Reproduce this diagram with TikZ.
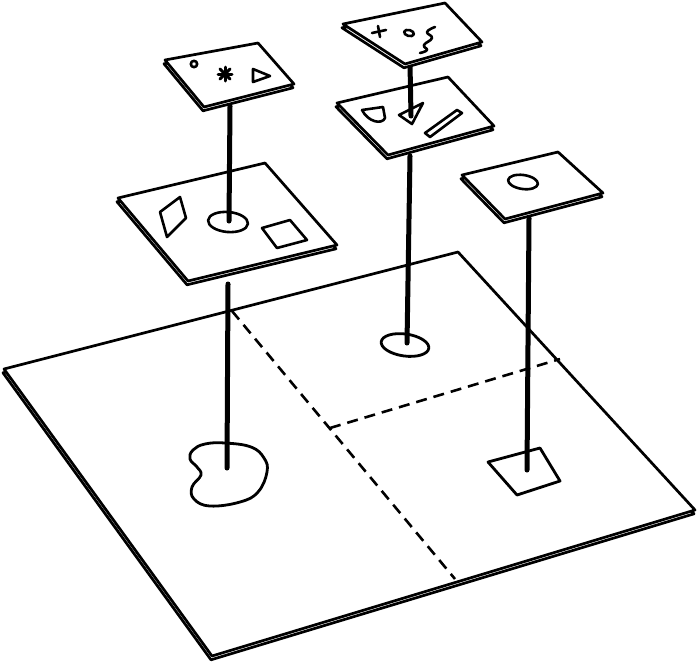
\documentclass[tikz,border=0pt]{standalone}
\usetikzlibrary{calc}
\begin{document}
\tikzset{
  sheet/.style={draw=black, fill=white, line width=2.7pt, line join=round},
  pole/.style={draw=black, line width=5pt, line cap=round},
  glyph/.style={draw=black, line width=2.6pt, line join=round, line cap=round},
  divider/.style={draw=black, line width=2.6pt, dash pattern=on 11pt off 7pt},
}
% a sheet with a second sheet peeking out below its front edges
\newcommand\slab[4]{%
  \draw[sheet, shift={(-1,3.8)}] #1 -- #2 -- #3 -- #4 -- cycle;
  \draw[sheet] #1 -- #2 -- #3 -- #4 -- cycle;}
\begin{tikzpicture}[x=1pt, y=-1pt]
\useasboundingbox (0,0) rectangle (700,662);

% ---------- ground sheet ----------
\slab{(4,369)}{(458,252)}{(695,510)}{(212,656)}
\coordinate (dTop) at (232,311);
\coordinate (dMid) at (330,428);
\coordinate (dBot) at (455,579);
\coordinate (dRight) at (560,359);
\draw[divider] (dTop) -- (dBot);
\draw[divider] (dMid) -- (dRight);

% regions on the ground
\draw[glyph, line width=2.8pt] plot[smooth cycle, tension=0.7] coordinates
  {(225,443) (251,447) (264,458) (267,472) (258,492) (240,502) (210,506)
   (194,499) (192,487) (201,475) (197,467) (190,459) (193,450) (205,444)};
\draw[glyph, line width=2.8pt] (405,345) ellipse[x radius=24, y radius=11, rotate=-8];
\draw[glyph, line width=2.8pt] (488,462) -- (540,448) -- (560,481) -- (517,495) -- cycle;

\coordinate (blob) at (227,468);
\coordinate (oval) at (407,343);
\coordinate (quad) at (527,470);

% ---------- left stack ----------
\coordinate (bigUnder) at (228,284);
\draw[pole] (bigUnder) -- (blob);
\slab{(118,198)}{(265,163)}{(337,245)}{(188,281)}
\draw[glyph] (160,212) -- (180,197) -- (186,218) -- (167,237) -- cycle;
\draw[glyph] (228,222) ellipse[x radius=20, y radius=10, rotate=-5];
\draw[glyph] (262,228) -- (290,220) -- (307,240) -- (277,248) -- cycle;
\coordinate (bigHole) at (229,221);

\coordinate (tlUnder) at (230,106);
\draw[pole] (tlUnder) -- (bigHole);
\slab{(165,60)}{(258,43)}{(294,84)}{(204,107)}
\draw[glyph] (194,64) circle[radius=3.2];
\foreach \a in {0,45,90,135}
  \draw[glyph, line width=3pt] (225,74) ++(\a:7) -- ++(\a+180:14);
\draw[glyph] (253,69) -- (270,76) -- (253,82) -- cycle;

% ---------- middle stack ----------
\coordinate (midUnder) at (410,156);
\draw[pole] (midUnder) -- (oval);
\slab{(337,103)}{(448,77)}{(494,126)}{(388,155)}
\draw[glyph] (362,110) -- (383,107) -- (385,118) .. controls (382,125) and (368,122) .. (362,110);
\draw[glyph] (399,115) -- (423,103) -- (412,124) -- cycle;
\draw[glyph] (425,133) -- (457,110) -- (462,113) -- (430,137) -- cycle;
\coordinate (tri) at (411,116);

\coordinate (trUnder) at (410,64);
\draw[pole] (trUnder) -- (tri);
\slab{(343,24)}{(445,3)}{(482,42)}{(405,64)}
\draw[glyph] (372,33) -- (386,30);
\draw[glyph] (378,26) -- (380,37);
\draw[glyph] (409,33) ellipse[x radius=5, y radius=3, rotate=-15];
\draw[glyph] plot[smooth, tension=0.8] coordinates
  {(435,27) (427,32) (432,38) (424,45) (427,50) (420,53)};

% ---------- right stack ----------
\coordinate (rUnder) at (529,218);
\draw[pole] (rUnder) -- (quad);
\slab{(462,175)}{(558,152)}{(603,193)}{(505,219)}
\draw[glyph] (523,182) ellipse[x radius=15, y radius=7, rotate=-8];
\end{tikzpicture}
\end{document}
